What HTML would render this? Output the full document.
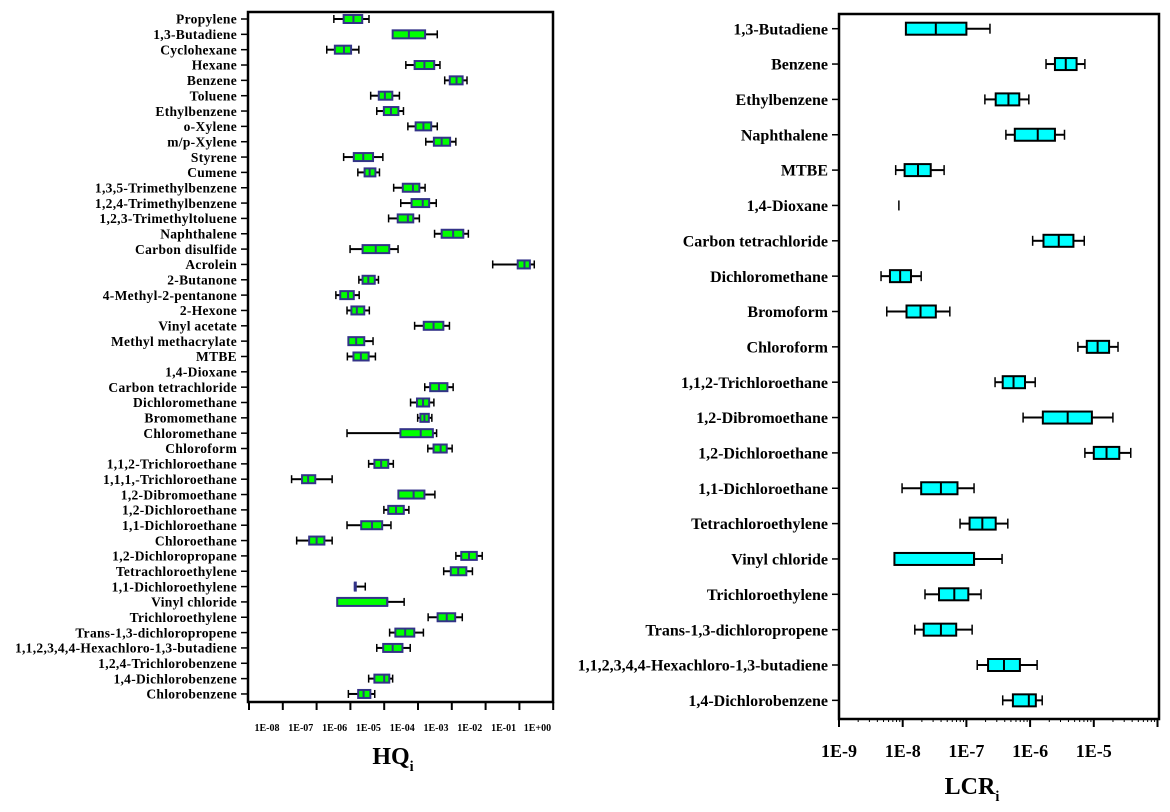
<!DOCTYPE html>
<html><head><meta charset="utf-8"><style>
html,body{margin:0;padding:0;background:#fff;width:1170px;height:812px;overflow:hidden}
svg text{font-family:"Liberation Serif",serif;font-weight:bold;fill:#000}
</style></head><body>
<svg id="chart" width="1170" height="812" viewBox="0 0 1170 812" xmlns="http://www.w3.org/2000/svg"></svg>
<script>
// ---- Left panel data (HQ, log10 values: min, q1, median, q3, max) ----
const hqCategories = ["Propylene","1,3-Butadiene","Cyclohexane","Hexane","Benzene","Toluene","Ethylbenzene","o-Xylene","m/p-Xylene","Styrene","Cumene","1,3,5-Trimethylbenzene","1,2,4-Trimethylbenzene","1,2,3-Trimethyltoluene","Naphthalene","Carbon disulfide","Acrolein","2-Butanone","4-Methyl-2-pentanone","2-Hexone","Vinyl acetate","Methyl methacrylate","MTBE","1,4-Dioxane","Carbon tetrachloride","Dichloromethane","Bromomethane","Chloromethane","Chloroform","1,1,2-Trichloroethane","1,1,1,-Trichloroethane","1,2-Dibromoethane","1,2-Dichloroethane","1,1-Dichloroethane","Chloroethane","1,2-Dichloropropane","Tetrachloroethylene","1,1-Dichloroethylene","Vinyl chloride","Trichloroethylene","Trans-1,3-dichloropropene","1,1,2,3,4,4-Hexachloro-1,3-butadiene","1,2,4-Trichlorobenzene","1,4-Dichlorobenzene","Chlorobenzene"];
const hqStats = [
[-5.49,-5.20,-4.91,-4.65,-4.45],[-3.75,-3.75,-3.27,-2.79,-2.43],[-5.70,-5.46,-5.19,-4.98,-4.75],
[-3.36,-3.10,-2.81,-2.52,-2.35],[-2.21,-2.06,-1.86,-1.68,-1.55],[-4.40,-4.16,-3.98,-3.76,-3.55],
[-4.22,-4.01,-3.80,-3.58,-3.43],[-3.30,-3.07,-2.84,-2.61,-2.43],[-2.77,-2.53,-2.30,-2.05,-1.88],
[-5.20,-4.90,-4.62,-4.33,-4.04],[-4.78,-4.58,-4.43,-4.26,-4.14],[-3.72,-3.45,-3.15,-2.96,-2.79],
[-3.51,-3.19,-2.86,-2.67,-2.46],[-3.87,-3.60,-3.30,-3.14,-2.96],[-2.51,-2.30,-1.96,-1.66,-1.51],
[-5.01,-4.64,-4.25,-3.85,-3.59],[-0.79,-0.05,0.15,0.31,0.44],[-4.75,-4.64,-4.47,-4.28,-4.17],
[-5.43,-5.30,-5.07,-4.90,-4.74],[-5.10,-4.97,-4.81,-4.59,-4.44],[-3.10,-2.83,-2.54,-2.25,-2.07],
[-5.06,-5.06,-4.83,-4.59,-4.33],[-5.09,-4.91,-4.69,-4.46,-4.26],null,
[-2.80,-2.64,-2.38,-2.13,-1.96],[-3.22,-3.03,-2.85,-2.67,-2.53],[-3.01,-2.93,-2.81,-2.68,-2.59],
[-5.10,-3.52,-2.92,-2.56,-2.45],[-2.71,-2.54,-2.33,-2.15,-1.99],[-4.46,-4.29,-4.09,-3.88,-3.73],
[-6.74,-6.43,-6.25,-6.04,-5.54],[-3.58,-3.58,-3.13,-2.81,-2.50],[-4.01,-3.88,-3.65,-3.42,-3.27],
[-5.10,-4.68,-4.36,-4.06,-3.80],[-6.59,-6.22,-6.00,-5.77,-5.54],[-1.88,-1.72,-1.49,-1.26,-1.10],
[-2.24,-2.03,-1.81,-1.57,-1.39],[-4.87,-4.87,-4.87,-4.87,-4.56],[-5.39,-5.39,-3.91,-3.91,-3.41],
[-2.70,-2.42,-2.15,-1.90,-1.69],[-3.84,-3.67,-3.38,-3.11,-2.84],[-4.22,-4.03,-3.75,-3.46,-3.23],
null,[-4.46,-4.29,-4.00,-3.85,-3.75],[-5.06,-4.77,-4.61,-4.41,-4.28]];
const hqTickLabels = ["1E-08","1E-07","1E-06","1E-05","1E-04","1E-03","1E-02","1E-01","1E+00"];
const hqTickValues = [-8,-7,-6,-5,-4,-3,-2,-1,0,1];

// ---- Right panel data (LCR, log10 values) ----
const lcrCategories = ["1,3-Butadiene","Benzene","Ethylbenzene","Naphthalene","MTBE","1,4-Dioxane","Carbon tetrachloride","Dichloromethane","Bromoform","Chloroform","1,1,2-Trichloroethane","1,2-Dibromoethane","1,2-Dichloroethane","1,1-Dichloroethane","Tetrachloroethylene","Vinyl chloride","Trichloroethylene","Trans-1,3-dichloropropene","1,1,2,3,4,4-Hexachloro-1,3-butadiene","1,4-Dichlorobenzene"];
const lcrStats = [
[-7.95,-7.95,-7.48,-7.00,-6.63],[-5.75,-5.61,-5.44,-5.27,-5.14],[-6.71,-6.54,-6.34,-6.17,-6.02],
[-6.38,-6.24,-5.88,-5.61,-5.46],[-8.11,-7.97,-7.76,-7.56,-7.35],[-8.06,-8.06,-8.06,-8.06,-8.06],
[-5.96,-5.79,-5.55,-5.32,-5.15],[-8.34,-8.20,-8.04,-7.87,-7.71],[-8.25,-7.94,-7.72,-7.48,-7.26],
[-5.25,-5.11,-4.94,-4.76,-4.62],[-6.55,-6.43,-6.26,-6.08,-5.92],[-6.11,-5.80,-5.41,-5.03,-4.70],
[-5.14,-5.00,-4.80,-4.60,-4.42],[-8.01,-7.71,-7.40,-7.14,-6.88],[-7.10,-6.95,-6.75,-6.54,-6.35],
[-8.13,-8.13,-6.88,-6.88,-6.44],[-7.65,-7.43,-7.19,-6.97,-6.77],[-7.81,-7.67,-7.40,-7.16,-6.91],
[-6.83,-6.66,-6.41,-6.16,-5.89],[-6.43,-6.27,-6.02,-5.91,-5.81]];
const lcrTickLabels = ["1E-9","1E-8","1E-7","1E-6","1E-5"];
const lcrTickValues = [-9,-8,-7,-6,-5,-4];

const svg = document.getElementById('chart');
const NS = 'http://www.w3.org/2000/svg';
function mk(tag, attrs, parent){const e=document.createElementNS(NS,tag);for(const k in attrs)e.setAttribute(k,attrs[k]);(parent||svg).appendChild(e);return e;}

function panel(o){
  const g = mk('g',{});
  
  
  const x = v => o.x0 + (v - o.vmin) * o.dec;
  const y = i => o.y0 + i * o.step;
  const fr = mk('rect',{x:o.left,y:o.top,width:o.right-o.left,height:o.bottom-o.top,fill:'none',stroke:'#000','stroke-width':2.5},g);
  
  
  o.cats.forEach((c,i)=>{
    mk('line',{x1:o.left-7,x2:o.left,y1:y(i),y2:y(i),stroke:'#000','stroke-width':1.5},g);
    const t = mk('text',{x:o.left-o.labelGap,y:y(i)+o.lfs*0.35,'text-anchor':'end','font-size':o.lfs,'letter-spacing':o.ls},g);
    t.textContent = c;
    
    
  });
  o.tickValues.forEach(v=>{
    mk('line',{x1:x(v),x2:x(v),y1:o.bottom,y2:o.bottom+8,stroke:'#000','stroke-width':2},g);
    if(o.minor && v<o.tickValues[o.tickValues.length-1]){
      for(let m=2;m<10;m++){const xm=x(v+Math.log10(m));mk('line',{x1:xm,x2:xm,y1:o.bottom,y2:o.bottom+3,stroke:'#000','stroke-width':1},g);}
    }
  });
  o.tickLabels.forEach((s,i)=>{
    const t = mk('text',{x:x(o.tickValues[i])+o.labelShift,y:o.tickY,'text-anchor':'middle','font-size':o.tfs},g);
    t.textContent = s;
    
    
  });
  o.stats.forEach((s,i)=>{
    if(!s) return;
    const cy = y(i), h=o.bh;
    const bg = mk('g',{},g);
    
    
    if(s[0]===s[4]){
      mk('line',{x1:x(s[0]),x2:x(s[0]),y1:cy-o.cap,y2:cy+o.cap,stroke:'#000','stroke-width':1.5},bg);
      return;
    }
    mk('line',{x1:x(s[0]),x2:x(s[1]),y1:cy,y2:cy,stroke:'#000','stroke-width':o.ww},bg);
    mk('line',{x1:x(s[3]),x2:x(s[4]),y1:cy,y2:cy,stroke:'#000','stroke-width':o.ww},bg);
    if(s[0]<s[1]) mk('line',{x1:x(s[0]),x2:x(s[0]),y1:cy-o.cap,y2:cy+o.cap,stroke:'#000','stroke-width':1.5},bg);
    if(s[4]>s[3]) mk('line',{x1:x(s[4]),x2:x(s[4]),y1:cy-o.cap,y2:cy+o.cap,stroke:'#000','stroke-width':1.5},bg);
    const w = Math.max(x(s[3])-x(s[1]),1);
    mk('rect',{x:x(s[1]),y:cy-h/2,width:w,height:h,fill:o.fill,stroke:o.stroke,'stroke-width':o.bw},bg);
    mk('line',{x1:x(s[2]),x2:x(s[2]),y1:cy-h/2,y2:cy+h/2,stroke:o.stroke,'stroke-width':o.bw},bg);
  });
  const tt = mk('text',{x:o.titleX,y:o.titleY,'font-size':o.titleFs,'text-anchor':'middle'},g);
  
  
  tt.textContent = o.title;
  const sub = mk('tspan',{'font-size':o.titleFs*0.6,dy:o.titleFs*0.3},tt);
  sub.textContent='i';
}

panel({name:'hq-panel',cats:hqCategories,stats:hqStats,tickValues:hqTickValues,tickLabels:hqTickLabels,
  left:248,right:553,top:12,bottom:702,x0:249,vmin:-8,dec:33.8,y0:19,step:15.34,
  lfs:13.5,ls:0.3,labelGap:11,tfs:10,tickY:731,labelShift:18,bh:8,bw:2,ww:2,cap:4,fill:'#00ff00',stroke:'#333388',
  minor:false,title:'HQ',titleX:393,titleY:764,titleFs:24});
panel({name:'lcr-panel',cats:lcrCategories,stats:lcrStats,tickValues:lcrTickValues,tickLabels:lcrTickLabels,
  left:839,right:1159,top:14,bottom:719,x0:839,vmin:-9,dec:63.7,y0:28.7,step:35.35,
  lfs:16,ls:0,labelGap:11,tfs:18,tickY:757,labelShift:0,bh:12,bw:2,ww:2,cap:5,fill:'#00ffff',stroke:'#000',
  minor:true,title:'LCR',titleX:972,titleY:794,titleFs:24});
</script>
</body></html>
